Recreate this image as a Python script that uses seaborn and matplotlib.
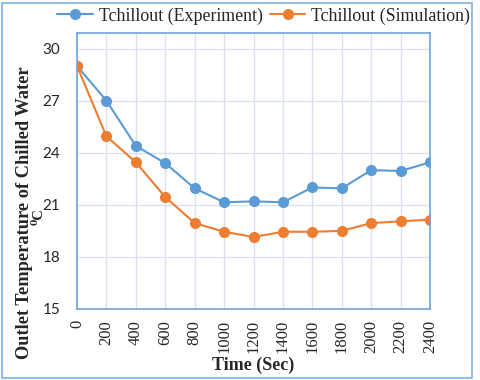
import matplotlib
matplotlib.use("Agg")
import matplotlib.pyplot as plt
import seaborn as sns
import pandas as pd
from matplotlib.patches import Rectangle

# data
time_sec = [0, 200, 400, 600, 800, 1000, 1200, 1400, 1600, 1800, 2000, 2200, 2400]
t_experiment = [29.0, 27.0, 24.4, 23.4, 21.95, 21.15, 21.2, 21.15, 22.0, 21.95, 23.0, 22.95, 23.45]
t_simulation = [29.0, 24.95, 23.45, 21.45, 19.95, 19.45, 19.15, 19.45, 19.45, 19.5, 19.95, 20.05, 20.15]
series_names = ["Tchillout (Experiment)", "Tchillout (Simulation)"]
y_ticks = [15, 18, 21, 24, 27, 30]

df = pd.DataFrame({
    "Time": time_sec * 2,
    "Temp": t_experiment + t_simulation,
    "Series": [series_names[0]] * len(time_sec) + [series_names[1]] * len(time_sec),
})

sns.set_style("white")
plt.rcParams["font.family"] = ["Liberation Serif", "DejaVu Serif"]

W, H = 480, 380
fig = plt.figure(figsize=(4.8, 3.8), dpi=100)
ax = fig.add_axes([77 / W, 1 - 309 / H, 353 / W, 276 / H])

palette = {series_names[0]: "#5B9BD5", series_names[1]: "#ED7D31"}
sns.lineplot(data=df, x="Time", y="Temp", hue="Series", palette=palette,
             marker="o", markersize=8, markeredgewidth=0, linewidth=1.5, ax=ax)

ax.set_xlim(0, 2400)
ax.set_ylim(15, 30.9)
ax.set_xticks(time_sec)
ax.set_xticklabels([str(t) for t in time_sec], rotation=90, fontsize=12)
ax.set_yticks(y_ticks)
ax.set_yticklabels([str(v) for v in y_ticks], fontsize=11, family="Lato")
ax.tick_params(axis="x", length=0, pad=8)
ax.tick_params(axis="y", length=0, pad=12)
ax.grid(True, color="#D9E1EC", linewidth=1)
for s in ax.spines.values():
    s.set_color("#6FA3D8")
    s.set_linewidth(1.2)

ax.set_xlabel("Time (Sec)", fontsize=13, fontweight="bold")
ax.xaxis.set_label_coords(0.5, -0.174)
ax.set_ylabel("")

# y label drawn as two rotated lines, like the Excel original
fig.text(25 / W, 1 - 213 / H, "Outlet Temperature of Chilled Water", rotation=90,
         ha="center", va="center", fontsize=13.2, fontweight="bold")
fig.text(39.5 / W, 1 - 217 / H, "\u2070C", rotation=90, ha="center", va="center",
         fontsize=10.5, fontweight="bold")

leg = ax.legend(loc="center", bbox_to_anchor=(263.5 / W, 1 - 16 / H),
                bbox_transform=fig.transFigure, ncol=2, frameon=False,
                fontsize=12.9, handlelength=2.0, columnspacing=0.4, handletextpad=0.33)

fig.patches.append(Rectangle((0.004, 0.006), 0.98, 0.985, transform=fig.transFigure,
                             fill=False, edgecolor="#7FB0DE", linewidth=1.2))

fig.savefig("out.png", dpi=100)
